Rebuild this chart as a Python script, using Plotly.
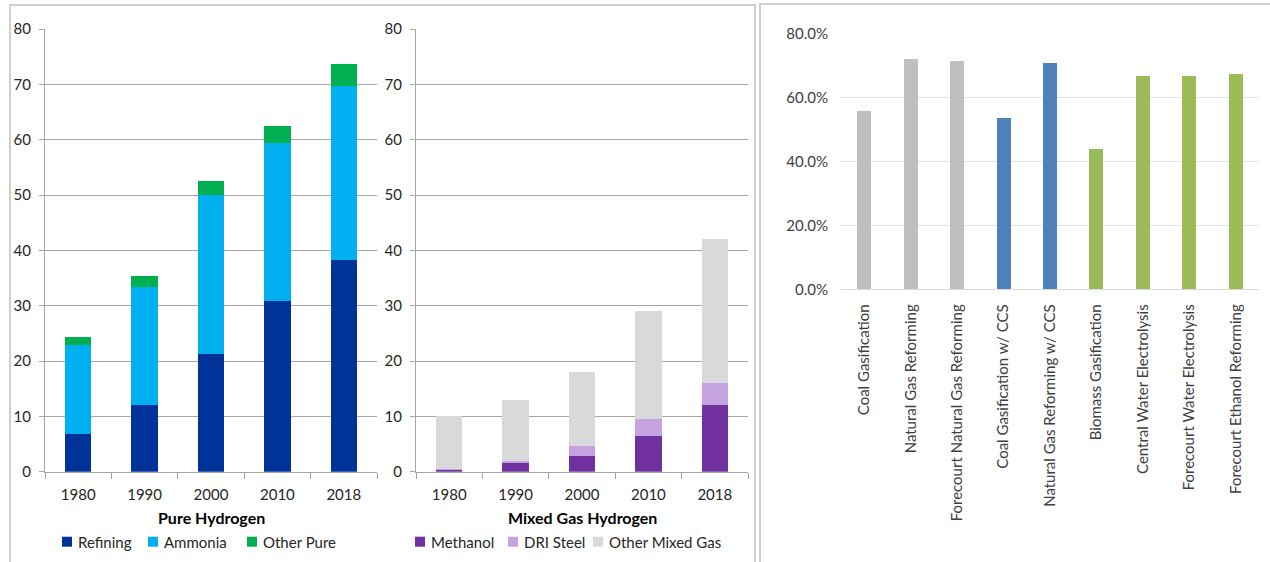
import plotly.graph_objects as go

# ---- data ----
years = ["1980", "1990", "2000", "2010", "2018"]

refining = [6.8, 12.0, 21.3, 30.9, 38.2]
ammonia = [16.1, 21.3, 28.7, 28.5, 31.5]
other_pure = [1.5, 2.0, 2.5, 3.1, 4.0]

methanol = [0.4, 1.5, 2.9, 6.5, 12.0]
dri_steel = [0.1, 0.5, 1.8, 3.0, 4.0]
other_mixed = [9.5, 11.0, 13.3, 19.5, 26.0]

pathways = [
    "Coal Gasification",
    "Natural Gas Reforming",
    "Forecourt Natural Gas Reforming",
    "Coal Gasification w/ CCS",
    "Natural Gas Reforming w/ CCS",
    "Biomass Gasification",
    "Central Water Electrolysis",
    "Forecourt Water Electrolysis",
    "Forecourt Ethanol Reforming",
]
efficiency = [0.557, 0.719, 0.712, 0.536, 0.706, 0.438, 0.667, 0.667, 0.673]
pathway_colors = ["#BFBFBF", "#BFBFBF", "#BFBFBF", "#4F81BD", "#4F81BD",
                  "#9BBB59", "#9BBB59", "#9BBB59", "#9BBB59"]

# ---- page geometry (pixels) ----
W, H = 1270, 562
FONT = "Lato"


def px(x):
    return x / W


def py(y):
    return 1 - y / H


fig = go.Figure()

pure_series = [("Refining", refining, "#003399"),
               ("Ammonia", ammonia, "#00B0F0"),
               ("Other Pure", other_pure, "#00B050")]
mixed_series = [("Methanol", methanol, "#7030A0"),
                ("DRI Steel", dri_steel, "#C5A3E0"),
                ("Other Mixed Gas", other_mixed, "#D9D9D9")]

for name, vals, color in pure_series:
    fig.add_trace(go.Bar(x=years, y=vals, name=name, marker_color=color,
                         marker_line_width=0, width=0.4,
                         xaxis="x", yaxis="y", showlegend=False))
for name, vals, color in mixed_series:
    fig.add_trace(go.Bar(x=years, y=vals, name=name, marker_color=color,
                         marker_line_width=0, width=0.4,
                         xaxis="x2", yaxis="y2", showlegend=False))

fig.add_trace(go.Bar(x=pathways, y=efficiency, marker_color=pathway_colors,
                     marker_line_width=0, width=0.3,
                     xaxis="x3", yaxis="y3", showlegend=False))

GRID = "#A6A6A6"
tick_font = dict(family=FONT, size=15, color="#262626")

stack_y = dict(range=[0, 80], dtick=10, showgrid=True, gridcolor=GRID,
               gridwidth=1, showline=True, linecolor=GRID, linewidth=1,
               ticks="outside", ticklen=5, tickcolor=GRID,
               tickfont=tick_font, zeroline=False, ticklabelstandoff=5,
               automargin=False, domain=[py(471.7), py(29)])
stack_x = dict(type="category", showline=True, linecolor=GRID, linewidth=1,
               ticks="outside", ticklen=6, tickcolor=GRID,
               tickson="boundaries", tickfont=tick_font, showgrid=False,
               ticklabelstandoff=9, automargin=False)

fig.update_layout(
    template="none",
    width=W, height=H,
    margin=dict(l=0, r=0, t=0, b=0, autoexpand=False),
    paper_bgcolor="white", plot_bgcolor="white",
    barmode="stack",
    font=dict(family=FONT),
    xaxis=dict(stack_x, domain=[px(45), px(377)], anchor="y"),
    yaxis=dict(stack_y, anchor="x"),
    xaxis2=dict(stack_x, domain=[px(416), px(748)], anchor="y2"),
    yaxis2=dict(stack_y, anchor="x2"),
    xaxis3=dict(type="category", domain=[px(841), px(1259)], anchor="y3",
                showline=True, linecolor="#D9D9D9", linewidth=1,
                ticks="", tickangle=-90, showgrid=False, automargin=False,
                tickfont=dict(family=FONT, size=15, color="#404040"),
                ticklabelstandoff=8),
    yaxis3=dict(range=[0, 0.8], dtick=0.2, tickformat=".1%", anchor="x3",
                domain=[py(289.3), py(33.3)], showgrid=True,
                gridcolor="#E3E3E3", gridwidth=1, zeroline=False,
                showline=False, ticks="", automargin=False,
                tickfont=dict(family=FONT, size=15, color="#404040"),
                ticklabelstandoff=12),
)

# panel frames
shapes = [
    dict(type="rect", xref="paper", yref="paper",
         x0=px(10), x1=px(755), y0=py(600), y1=py(5),
         line=dict(color="#D0D0D0", width=2), layer="below"),
    dict(type="rect", xref="paper", yref="paper",
         x0=px(760), x1=px(1300), y0=py(600), y1=py(4),
         line=dict(color="#D0D0D0", width=2), layer="below"),
]

annotations = [
    dict(text="<b>Pure Hydrogen</b>", x=px(211), y=py(517), xref="paper",
         yref="paper", showarrow=False, xanchor="center", yanchor="middle",
         font=dict(family=FONT, size=16, color="#000000")),
    dict(text="<b>Mixed Gas Hydrogen</b>", x=px(582), y=py(517), xref="paper",
         yref="paper", showarrow=False, xanchor="center", yanchor="middle",
         font=dict(family=FONT, size=16, color="#000000")),
]

# legend rows under the two stacked panels
legend_y = 541.7
legend_items = [("Refining", "#003399", 62), ("Ammonia", "#00B0F0", 148),
                ("Other Pure", "#00B050", 247), ("Methanol", "#7030A0", 415),
                ("DRI Steel", "#C5A3E0", 508),
                ("Other Mixed Gas", "#D9D9D9", 593)]
for label, color, x0 in legend_items:
    shapes.append(dict(type="rect", xref="paper", yref="paper",
                       x0=px(x0), x1=px(x0 + 10),
                       y0=py(legend_y + 5), y1=py(legend_y - 5),
                       fillcolor=color, line=dict(width=0)))
    annotations.append(dict(text=label, x=px(x0 + 14), y=py(legend_y),
                            xref="paper", yref="paper", showarrow=False,
                            xanchor="left", yanchor="middle",
                            font=dict(family=FONT, size=15, color="#262626")))

fig.update_layout(shapes=shapes, annotations=annotations)

fig.write_html("out.html")
